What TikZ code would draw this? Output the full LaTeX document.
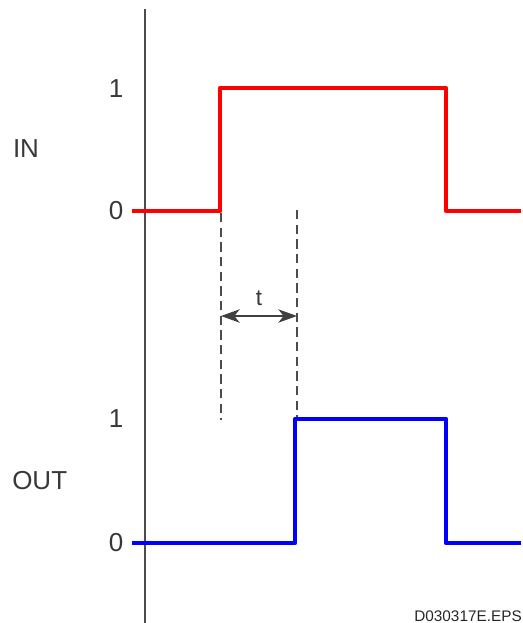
\documentclass[tikz,border=0pt]{standalone}
\usepackage{fontspec}
\setmainfont{Liberation Sans}
\usetikzlibrary{arrows.meta}

\begin{document}
\begin{tikzpicture}[
  x=0.75pt, y=-0.75pt, >={Stealth[length=14pt,width=10pt,inset=4pt]},
  lvl/.style={font=\fontsize{19.5}{22}\selectfont, text=black!78, inner sep=0pt},
  axis/.style={draw=black!70, line width=1.2pt},
  sig/.style={line width=3.4pt, line join=round},
  guide/.style={draw=black!70, line width=1.5pt, dash pattern=on 7pt off 4pt},
  dim/.style={draw=black!75, line width=1.5pt}
]
\useasboundingbox (0,0) rectangle (523,623);

% axis
\draw[axis] (145,9) -- (145,623);

% level labels
\node[lvl] (in1) at (116,89) {1};
\node[lvl] (in0) at (116,211) {0};
\node[lvl] (inlbl) at (26,149) {IN};
\node[lvl] (out1) at (116,419) {1};
\node[lvl] (out0) at (116,543) {0};
\node[lvl, anchor=west] (outlbl) at (12,481) {OUT};

% dashed guides
\coordinate (g1top) at (221,213);
\coordinate (g1bot) at (221,420);
\coordinate (g2top) at (297,210);
\coordinate (g2bot) at (297,419);
\draw[guide] (g1top) -- (g1bot);
\draw[guide] (g2top) -- (g2bot);

% waveforms
\draw[sig, red] (132,211) -- (220,211) -- (220,88) -- (446,88) -- (446,211) -- (521,211);
\draw[sig, blue] (132,543) -- (295,543) -- (295,419) -- (446,419) -- (446,543) -- (521,543);

% delay time
\coordinate (t1) at (221,316);
\coordinate (t2) at (297,316);
\draw[dim, <->] (t1) -- (t2) node[midway, above=7pt, lvl, font=\fontsize{17}{20}\selectfont] (tlbl) {t};

\node[anchor=south east, inner sep=0pt, font=\fontsize{11.5}{13}\selectfont, text=black!85] (fig) at (522,622) {D030317E.EPS};
\end{tikzpicture}
\end{document}
